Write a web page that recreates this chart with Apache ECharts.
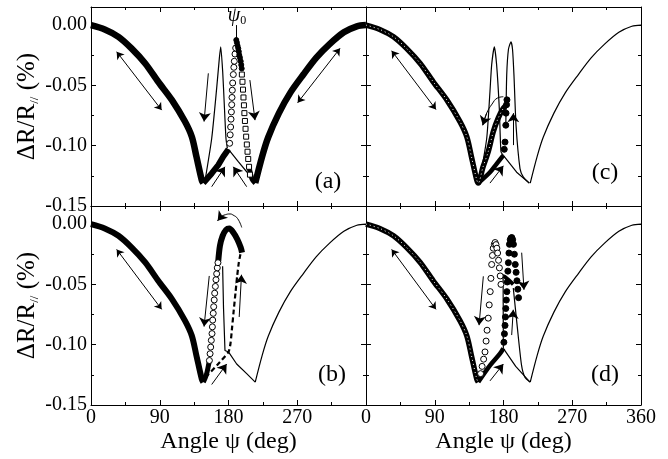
<!DOCTYPE html>
<html>
<head>
<meta charset="utf-8">
<script src="https://cdn.jsdelivr.net/npm/echarts@6/dist/echarts.min.js"></script>
<style>html,body{margin:0;background:#fff}#main{width:668px;height:459px}</style>
</head>
<body>
<div id="main"></div>
<script>
// values: angle psi (deg), dR/R (%)
// common branches (same in all panels)
var leftAng  = [0, 18, 36, 53, 71, 88, 106, 123, 132, 138, 145, 147];
var leftVal  = [0, -0.0036, -0.0097, -0.0193, -0.0318, -0.047, -0.0622, -0.080, -0.0926, -0.109, -0.1285, -0.131];
var rightAng = [215, 224, 232, 246, 261, 278, 295, 312, 331, 348, 360];
var rightVal = [-0.131, -0.109, -0.093, -0.073, -0.056, -0.041, -0.027, -0.016, -0.006, -0.001, 0];

// (a)
var aRiseAng = [147, 158, 166.6, 173.2, 180];
var aRiseVal = [-0.131, -0.123, -0.116, -0.109, -0.103];
var aPeakAng = [149, 158, 164.5, 168, 169.8, 172.4, 174.5, 176.7, 178.5];
var aPeakVal = [-0.130, -0.094, -0.0525, -0.0276, -0.018, -0.0387, -0.066, -0.094, -0.102];
var aFallAng = [180, 192.8, 203.8, 215];
var aFallVal = [-0.103, -0.1133, -0.1216, -0.131];
var aCircAng = [181.5, 182.2, 182.8, 183.3, 183.8, 184.2, 184.6, 185.0, 185.5, 186.3, 187.0, 187.6, 188.5, 189.4];
var aCircVal = [-0.098, -0.091, -0.0845, -0.078, -0.072, -0.066, -0.060, -0.054, -0.048, -0.041, -0.035, -0.030, -0.024, -0.019];
var aDotAng  = [190.2, 191, 191.8, 192.8, 193.5, 194.1, 195, 196, 196.7, 197.3];
var aDotVal  = [-0.0124, -0.0145, -0.017, -0.0193, -0.022, -0.0249, -0.027, -0.030, -0.033, -0.036];
var aSqAng   = [197.5, 198.3, 199.0, 199.6, 200.2, 200.8, 201.5, 202.3, 203.1, 204.0, 204.9, 205.8, 206.9, 208.1];
var aSqVal   = [-0.041, -0.047, -0.0535, -0.060, -0.0665, -0.073, -0.0795, -0.086, -0.0925, -0.099, -0.105, -0.111, -0.1175, -0.124];
var aJoinAng = [207, 211, 215];
var aJoinVal = [-0.118, -0.128, -0.131];

// (b)
var bRiseAng = [147, 151, 155];
var bRiseVal = [-0.131, -0.125, -0.113];
var bCircAng = [155.0, 155.9, 156.7, 157.5, 158.4, 158.9, 159.3, 160.0, 160.6, 161.3, 161.9, 162.8, 163.6, 164.5, 165.3, 166.2];
var bCircVal = [-0.1131, -0.1075, -0.102, -0.0964, -0.0908, -0.0852, -0.0796, -0.074, -0.0685, -0.0629, -0.0573, -0.0517, -0.0461, -0.0412, -0.0363, -0.032];
var bArcAng  = [166.6, 168.8, 172.3, 176.7, 181, 186.3, 191.5, 196, 197.7];
var bArcVal  = [-0.0307, -0.018, -0.0098, -0.0048, -0.0036, -0.007, -0.0126, -0.0195, -0.0237];
var bDropAng = [172.3, 173.5, 175.4, 180];
var bDropVal = [-0.035, -0.07, -0.1048, -0.106];
var bDashAng = [150, 165, 180, 182.6, 184.8, 186.9, 189.1, 191.3, 193.5, 195.6];
var bDashVal = [-0.127, -0.117, -0.106, -0.099, -0.085, -0.0712, -0.0573, -0.0433, -0.032, -0.025];
var bFallAng = [180, 190.7, 203.8, 215];
var bFallVal = [-0.106, -0.116, -0.124, -0.131];
var bBowAng  = [197.3, 192, 186, 181.9, 176, 170, 165.8];   // curved arrow over the peak
var bBowVal  = [-0.0028, 0.0045, 0.0075, 0.0084, 0.0078, 0.006, 0.0028];

// (c)
var cUpperAng = [147, 153, 160, 166.6, 173.2, 179.8, 184.2];
var cUpperVal = [-0.131, -0.118, -0.105, -0.0885, -0.077, -0.069, -0.066];
var cLowerAng = [147, 162.3, 171, 179.8];
var cLowerVal = [-0.131, -0.122, -0.115, -0.108];
var cUpAng    = [181, 182, 183, 183.3, 184, 184.5];
var cUpVal    = [-0.103, -0.097, -0.083, -0.073, -0.066, -0.062];
var cPeak1Ang = [149, 158, 162.3, 164.5, 168, 171, 174.5, 176.7, 179.8];
var cPeak1Val = [-0.128, -0.094, -0.055, -0.033, -0.018, -0.033, -0.069, -0.105, -0.108];
var cPeak2Ang = [183, 184.2, 186.5, 189.8, 191.8, 193.7, 196.4, 201.6, 206, 213.8];
var cPeak2Val = [-0.085, -0.0415, -0.020, -0.0138, -0.020, -0.0415, -0.083, -0.119, -0.126, -0.131];
var cFallAng  = [179.8, 197.2, 213.8];
var cFallVal  = [-0.108, -0.122, -0.131];
var cBowAng   = [179.8, 172, 165, 158, 152.8];               // curved arrow
var cBowVal   = [-0.0594, -0.0605, -0.0655, -0.073, -0.083];

// (d)
var dCircAng  = [150, 152, 154, 155.8, 157.2, 158.5, 160, 161.3, 162.6, 163.5, 164.5, 165.5, 166.6, 168, 169, 170.2, 171.3, 172.3, 173.5, 174.6, 175.7, 176.7];
var dCircVal  = [-0.124, -0.118, -0.112, -0.106, -0.097, -0.088, -0.078, -0.067, -0.056, -0.045, -0.0335, -0.026, -0.020, -0.0168, -0.0153, -0.017, -0.020, -0.024, -0.030, -0.0363, -0.043, -0.050];
var dLowerAng = [147, 162.6, 175.4, 179.8];
var dLowerVal = [-0.131, -0.117, -0.1075, -0.103];
var dDotAng   = [180.5, 181.2, 182, 182.5, 183, 183.7, 184.4, 185, 185.7, 186.4, 187.1, 187.8, 188.8, 189.8, 190.9, 192, 193, 194.2, 195.4, 196.5, 197.6, 198.7, 199.7];
var dDotVal   = [-0.098, -0.091, -0.084, -0.077, -0.070, -0.063, -0.056, -0.048, -0.039, -0.032, -0.024, -0.0168, -0.013, -0.0115, -0.0112, -0.013, -0.0168, -0.025, -0.0335, -0.040, -0.047, -0.054, -0.061];
var dFlatAng  = [176.5, 180, 186, 192.8];
var dFlatVal  = [-0.044, -0.0433, -0.046, -0.050];
var dVertAng  = [179.5, 179.8];
var dVertVal  = [-0.045, -0.103];
var dFall2Ang = [192.8, 198, 203.6, 208, 214.7];
var dFall2Val = [-0.053, -0.085, -0.117, -0.127, -0.131];
var dFallAng  = [179.8, 196, 214.7];
var dFallVal  = [-0.103, -0.118, -0.131];

// straight arrows: [x1, y1, x2, y2, heads(0 none / 1 end / 2 both)]
var arrowsA = [[33.6, -0.0221, 92.5, -0.0705, 2], [326, -0.0193, 270.5, -0.0644, 2],
  [153.6, -0.040, 148, -0.080, 1], [208, -0.0456, 214.7, -0.0788, 1],
  [158, -0.134, 175.4, -0.1175, 1], [203.8, -0.134, 186.3, -0.1175, 1],
  [189.8, 0, 189.8, -0.014, 0]];
var arrowsB = [[33.6, -0.021, 92.5, -0.0707, 2], [154.8, -0.043, 148, -0.085, 1],
  [194, -0.077, 197, -0.042, 1], [158, -0.133, 177.6, -0.116, 1]];
var arrowsC = [[33.6, -0.0213, 91.6, -0.070, 2],
  [192.8, -0.0995, 192.8, -0.073, 1], [162.3, -0.131, 179.8, -0.1167, 1]];
var arrowsD = [[33.6, -0.021, 91.6, -0.0707, 2], [153.6, -0.0433, 148, -0.0838, 1],
  [203.8, -0.0237, 206.8, -0.0545, 1], [190.7, -0.092, 192.8, -0.071, 1],
  [162.3, -0.130, 179.8, -0.116, 1]];

var xTicks = [0, 90, 180, 270, 360];

var FONT = 'Liberation Serif';
function pts(a, v) { return a.map(function (x, i) { return [x, v[i]]; }); }

function line(g, data, w, dash, sm) {
  return {type: 'line', xAxisIndex: 2 * g, yAxisIndex: 2 * g, data: data, symbol: 'none',
    smooth: sm == null ? 0.3 : sm, silent: true, z: 2,
    lineStyle: {color: '#000', width: w, type: dash || 'solid'}};
}
function speckle(g, data) {
  var s = line(g, data, 1, [1, 3]);
  s.lineStyle.color = '#fff';
  s.z = 3;
  return s;
}
function marks(g, data, sym, filled, size) {
  return {type: 'scatter', xAxisIndex: 2 * g, yAxisIndex: 2 * g, data: data, symbol: sym,
    symbolSize: size, silent: true, z: 4,
    itemStyle: {color: filled ? '#000' : '#fff', borderColor: '#000', borderWidth: 1, opacity: 1}};
}
function arrows(g, list) {
  return {type: 'line', xAxisIndex: 2 * g, yAxisIndex: 2 * g, data: [], silent: true,
    markLine: {silent: true, animation: false, label: {show: false}, emphasis: {disabled: true},
      lineStyle: {color: '#000', width: 1, type: 'solid'},
      data: list.map(function (a) {
        var sz = a[4] === 2 ? 7 : 9;
        return [
          {coord: [a[0], a[1]], symbol: a[4] === 2 ? 'arrow' : 'none', symbolSize: sz},
          {coord: [a[2], a[3]], symbol: a[4] ? 'arrow' : 'none', symbolSize: sz}
        ];
      })}};
}
// curved arrow: thin smooth line through the read points, head on the last step
function bow(g, ang, val) {
  var s = line(g, pts(ang, val), 1, null, 0.5);
  var n = ang.length;
  s.markLine = {silent: true, animation: false, label: {show: false}, emphasis: {disabled: true},
    lineStyle: {color: '#000', width: 1, type: 'solid'},
    data: [[{coord: [ang[n - 2], val[n - 2]], symbol: 'none'}, {coord: [ang[n - 1], val[n - 1]], symbol: 'arrow', symbolSize: 9}]]};
  return s;
}

var grids = [
  {left: 91, top: 7, width: 275, height: 199},
  {left: 91, top: 206, width: 275, height: 199},
  {left: 366, top: 7, width: 275, height: 199},
  {left: 366, top: 206, width: 275, height: 199}
];

var tickStyle = {color: '#000', width: 1};
var xAxes = [], yAxes = [];
grids.forEach(function (gr, g) {
  [0, 1].forEach(function (k) {
    var showLab = k === 0 && (g === 1 || g === 3);
    xAxes.push({type: 'value', gridIndex: g, position: k ? 'top' : 'bottom',
      min: xTicks[0], max: xTicks[xTicks.length - 1], interval: 90,
      axisLine: {show: true, onZero: false, lineStyle: tickStyle},
      axisTick: {show: true, inside: true, length: 5, lineStyle: tickStyle},
      minorTick: {show: true, splitNumber: 2, length: 3, lineStyle: tickStyle},
      splitLine: {show: false},
      axisLabel: {show: showLab, margin: 3, color: '#000', fontFamily: FONT, fontSize: 20,
        showMaxLabel: g === 3,
        formatter: function (v) { return (g === 1 && v === 360) ? '' : String(v); }},
      name: showLab ? 'Angle ψ (deg)' : '', nameLocation: 'middle', nameGap: 25,
      nameTextStyle: {color: '#000', fontFamily: FONT, fontSize: 24}
    });
    var showY = k === 0 && g < 2;
    yAxes.push({type: 'value', gridIndex: g, position: k ? 'right' : 'left',
      min: -0.15, max: 0.015, interval: 0.05,
      axisLine: {show: true, onZero: false, lineStyle: tickStyle},
      axisTick: {show: true, inside: true, length: 5, lineStyle: tickStyle},
      minorTick: {show: true, splitNumber: 2, length: 3, lineStyle: tickStyle},
      splitLine: {show: false},
      axisLabel: {show: showY, margin: 4, color: '#000', fontFamily: FONT, fontSize: 20,
        showMaxLabel: false,
        formatter: function (v) { return v > 0.001 ? '' : v.toFixed(2); }},
      name: showY ? '{a|ΔR/R}{s|//}{a| (%)}' : '', nameLocation: 'middle', nameGap: 47,
      nameTextStyle: {color: '#000', fontFamily: FONT, fontSize: 25,
        rich: {a: {fontFamily: FONT, fontSize: 25, lineHeight: 29, color: '#000'},
          s: {fontFamily: FONT, fontSize: 13, lineHeight: 13, verticalAlign: 'bottom', color: '#000'}}}
    });
  });
});

var left = pts(leftAng, leftVal), right = pts(rightAng, rightVal);
var cLeft = left.concat(pts(cUpperAng, cUpperVal).slice(1));
var series = [
  // (a)
  line(0, left, 6.5), line(0, pts(aRiseAng, aRiseVal), 6, null, 0), line(0, right, 6.5),
  line(0, pts(aJoinAng, aJoinVal), 5), line(0, pts(aPeakAng, aPeakVal), 1.2, null, 0.2),
  line(0, pts(aFallAng, aFallVal), 1.2, null, 0),
  marks(0, pts(aCircAng, aCircVal), 'circle', false, 6), marks(0, pts(aDotAng, aDotVal), 'circle', true, 5),
  marks(0, pts(aSqAng, aSqVal), 'rect', false, 5), arrows(0, arrowsA),
  // (b)
  line(1, left, 6), line(1, pts(bRiseAng, bRiseVal), 5), line(1, right, 1.2),
  line(1, pts(bArcAng, bArcVal), 6), line(1, pts(bDropAng, bDropVal), 1.2, null, 0),
  line(1, pts(bDashAng, bDashVal), 2.2, [5, 3], 0.2), line(1, pts(bFallAng, bFallVal), 1.2, null, 0),
  marks(1, pts(bCircAng, bCircVal), 'circle', false, 6), arrows(1, arrowsB), bow(1, bBowAng, bBowVal),
  // (c)
  line(2, cLeft, 5.5), speckle(2, cLeft),
  line(2, pts(cLowerAng, cLowerVal), 4.5), line(2, right, 1.2),
  line(2, pts(cPeak1Ang, cPeak1Val), 1.2, null, 0.2), line(2, pts(cPeak2Ang, cPeak2Val), 1.2, null, 0.2),
  line(2, pts(cFallAng, cFallVal), 1.2, null, 0),
  marks(2, pts(cUpAng, cUpVal), 'circle', true, 6), arrows(2, arrowsC), bow(2, cBowAng, cBowVal),
  // (d)
  line(3, left, 5.5), speckle(3, left), line(3, pts(dLowerAng, dLowerVal), 4.5), line(3, right, 1.2),
  line(3, pts(dFlatAng, dFlatVal), 4), line(3, pts(dVertAng, dVertVal), 1.2, null, 0),
  line(3, pts(dFall2Ang, dFall2Val), 1.2, null, 0.2), line(3, pts(dFallAng, dFallVal), 1.2, null, 0),
  marks(3, pts(dCircAng, dCircVal), 'circle', false, 6), marks(3, pts(dDotAng, dDotVal), 'circle', true, 6),
  arrows(3, arrowsD)
];

function label(txt, x, y) {
  return {type: 'text', x: x, y: y, silent: true, z: 10,
    style: {text: txt, fill: '#000', font: '24px "Liberation Serif"', align: 'center', verticalAlign: 'middle',
      textAlign: 'center', textVerticalAlign: 'middle'}};
}

var chart = echarts.init(document.getElementById('main'));
chart.setOption({
  animation: false,
  backgroundColor: '#fff',
  grid: grids,
  xAxis: xAxes,
  yAxis: yAxes,
  series: series,
  graphic: [
    label('(a)', 328, 182), label('(b)', 332, 375), label('(c)', 605, 173), label('(d)', 605, 375),
    {type: 'text', x: 237, y: 16, silent: true, z: 10,
      style: {text: '{p|ψ}{s|0}', fill: '#000', align: 'center', verticalAlign: 'middle',
        rich: {p: {fontFamily: FONT, fontSize: 20, fontStyle: 'italic', lineHeight: 22},
          s: {fontFamily: FONT, fontSize: 12, lineHeight: 10, verticalAlign: 'bottom'}}}}
  ]
});
</script>
</body>
</html>
